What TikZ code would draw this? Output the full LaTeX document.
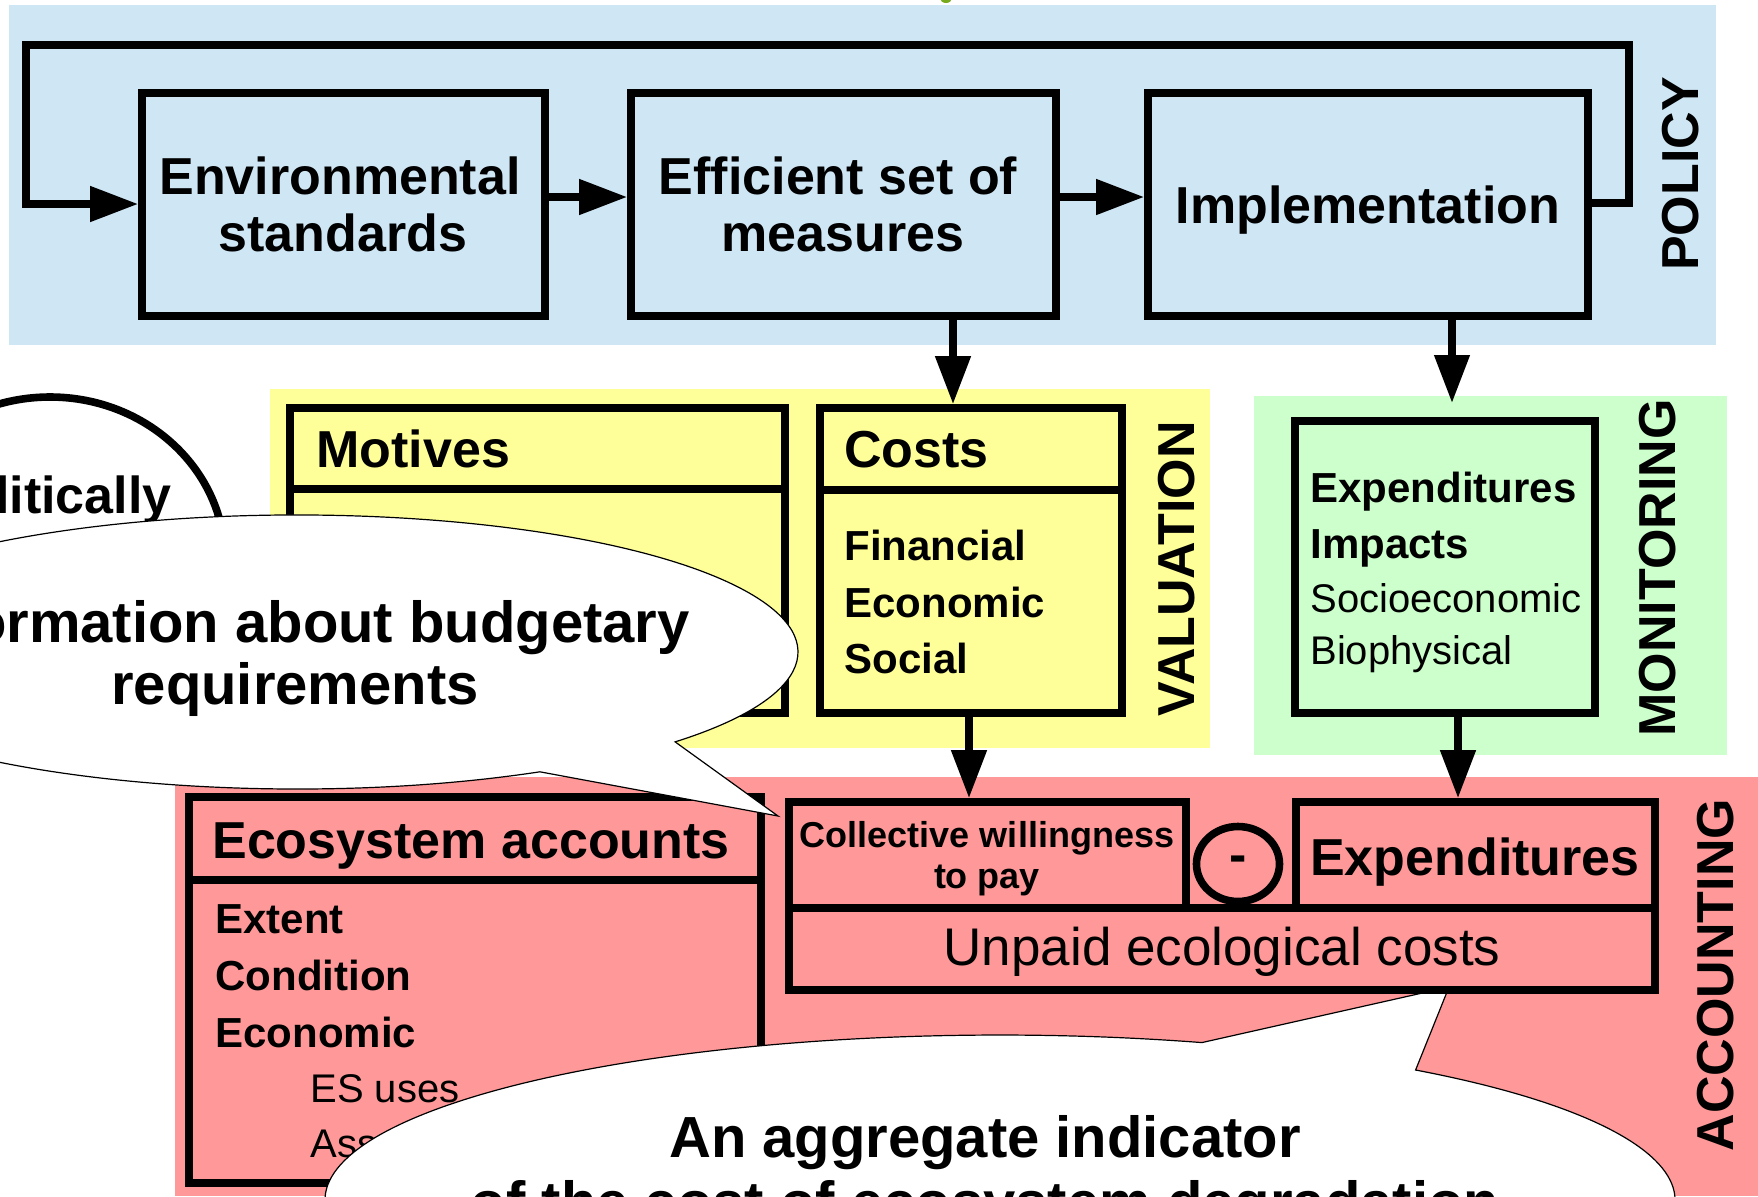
\documentclass[tikz,border=0pt]{standalone}
\usepackage{fontspec}
\setmainfont{Liberation Sans}
\usetikzlibrary{arrows.meta,fit,shapes.geometric}
\definecolor{polbg}{RGB}{207,231,245}
\definecolor{valbg}{RGB}{255,255,153}
\definecolor{monbg}{RGB}{204,255,204}
\definecolor{accbg}{RGB}{255,153,153}
\definecolor{blobgreen}{RGB}{120,170,30}
\begin{document}
\begin{tikzpicture}[x=0.5pt,y=-0.5pt,
  box/.style={draw, line width=3.8pt, inner sep=0pt, fill=#1},
  arr/.style={line width=3.8pt, -{Triangle[length=24pt,width=17pt]}},
  hb/.style={font=\fontsize{26}{31}\selectfont\bfseries, inner sep=0pt},
  ib/.style={font=\fontsize{21}{25}\selectfont\bfseries, inner sep=0pt},
  ir/.style={font=\fontsize{20}{24}\selectfont, inner sep=0pt},
  sb/.style={font=\fontsize{18}{21}\selectfont\bfseries, inner sep=0pt},
  ur/.style={font=\fontsize{26.5}{31}\selectfont, inner sep=0pt},
  cb/.style={font=\fontsize{29}{35}\selectfont\bfseries, inner sep=0pt},
  vlab/.style={hb, rotate=90},
  callout/.style={draw, fill=white, line width=0.6pt, line join=miter}]
\useasboundingbox (0,0) rectangle (1758,1196);
\clip (0,0) rectangle (1758,1196);

% backgrounds
\fill[polbg] (9,5) rectangle (1716,345);
\fill[valbg] (270,389) rectangle (1210,748);
\fill[monbg] (1254,396) rectangle (1727,755);
\fill[accbg] (175,777) rectangle (1758,1196);
\fill[blobgreen] (946,-2) ellipse [x radius=6, y radius=5];

% POLICY
\node[box=polbg, fit={(142,93)(545,316)}] (env) {};
\node[box=polbg, fit={(631,93)(1056,316)}] (eff) {};
\node[box=polbg, fit={(1148,93)(1588,316)}] (impl) {};
\node[hb, anchor=base] (envt1) at (340,194) {Environmental};
\node[hb, anchor=base] (envt2) at (343,251) {standards};
\node[hb, anchor=base] (efft1) at (838,194) {Efficient set of};
\node[hb, anchor=base] (efft2) at (843,251) {measures};
\node[hb, anchor=base] (implt) at (1368,223) {Implementation};
\node[vlab] (pollab) at (1681,174) {POLICY};
\coordinate (h1) at (0,197);
\coordinate (fb1) at (0,203);
\coordinate (fb2) at (0,204);
\coordinate (fbR) at (1629,45);
\coordinate (fbL) at (26,45);
\draw[arr] (env.east |- h1) -- (eff.west |- h1);
\draw[arr] (eff.east |- h1) -- (impl.west |- h1);
\draw[arr] (impl.east |- fb1) -- (fbR |- fb1) -- (fbR) -- (fbL) -- (fbL |- fb2) -- (env.west |- fb2);

% VALUATION
\node[box=valbg, fit={(290,408)(785,713)}] (motives) {};
\draw[line width=3.8pt] (290,489) -- (785,489);
\node[hb, anchor=base west] (mott) at (316,467) {Motives};
\node[box=valbg, fit={(820,408)(1122,713)}] (costs) {};
\draw[line width=3.8pt] (820,490) -- (1122,490);
\node[hb, anchor=base west] (costt) at (844,467) {Costs};
\node[ib, anchor=base west] (cost1) at (844,560) {Financial};
\node[ib, anchor=base west] (cost2) at (844,617) {Economic};
\node[ib, anchor=base west] (cost3) at (844,673) {Social};
\node[vlab] (vallab) at (1177,569) {VALUATION};

% MONITORING
\node[box=monbg, fit={(1295,421)(1595,713)}] (mon) {};
\node[ib, anchor=base west] (mon1) at (1310,502) {Expenditures};
\node[ib, anchor=base west] (mon2) at (1310,558) {Impacts};
\node[ir, anchor=base west] (mon3) at (1310,612) {Socioeconomic};
\node[ir, anchor=base west] (mon4) at (1310,664) {Biophysical};
\node[vlab] (monlab) at (1658,568) {MONITORING};

% policy -> valuation / monitoring
\coordinate (ec) at (953,0);
\coordinate (monin) at (1452,403);
\draw[arr] (eff.south -| ec) -- (costs.north -| ec);
\draw[arr] (impl.south -| monin) -- (monin);

% ACCOUNTING: ecosystem accounts
\node[box=accbg, fit={(189,797)(761,1183)}] (eco) {};
\draw[line width=3.8pt] (189,880) -- (761,880);
\node[hb, anchor=base west] (ecot) at (212,858) {Ecosystem accounts};
\node[ib, anchor=base west] (eco1) at (215,933) {Extent};
\node[ib, anchor=base west] (eco2) at (215,990) {Condition};
\node[ib, anchor=base west] (eco3) at (215,1047) {Economic};
\node[ir, anchor=base west] (eco4) at (310,1102) {ES uses};
\node[ir, anchor=base west] (eco5) at (310,1157) {Assets};
\node[vlab] (acclab) at (1716,975) {ACCOUNTING};

% politically ellipse
\node[draw, ellipse, line width=3.8pt, fill=white, inner sep=0pt,
      minimum width=175pt, minimum height=163pt] (polit) at (50,560) {};
\node[hb, anchor=base east] (polt) at (172,513) {Politically};

% callout 1
\draw[callout] (778,816) -- (539.9,771.8)
  arc[start angle=61, end angle=401, x radius=501, y radius=137] -- cycle;
\node[cb, anchor=base] (c1a) at (295,642) {Information about budgetary};
\node[cb, anchor=base] (c1b) at (295,704) {requirements};

% callout 2
\draw[callout] (1449,987) -- (1415.6,1070)
  arc[start angle=-52, end angle=287.4, x radius=675, y radius=165] -- cycle;
\node[cb, anchor=base] (c2a) at (985,1157) {An aggregate indicator};
\node[cb, anchor=base] (c2b) at (985,1222) {of the cost of ecosystem degradation};

% accounting boxes
\node[box=accbg, fit={(789,802)(1186,908)}] (coll) {};
\node[box=accbg, fit={(1296,802)(1655,908)}] (exp) {};
\node[box=accbg, fit={(789,908)(1655,990)}] (unp) {};
\node[draw, ellipse, line width=3.8pt, inner sep=0pt, minimum width=41.5pt,
      minimum height=37.5pt] (minus) at (1238,864) {};
\node[hb] (minust) at (minus.center) {-};
\node[sb, anchor=base] (collt1) at (987,847) {Collective willingness};
\node[sb, anchor=base] (collt2) at (987,888) {to pay};
\node[hb, anchor=base] (expt) at (1475,875) {Expenditures};
\node[ur, anchor=base] (unpt) at (1222,965) {Unpaid ecological costs};

\coordinate (cc) at (969,0);
\coordinate (me) at (1458,0);
\draw[arr] (costs.south -| cc) -- (coll.north -| cc);
\draw[arr] (mon.south -| me) -- (exp.north -| me);
\end{tikzpicture}
\end{document}
